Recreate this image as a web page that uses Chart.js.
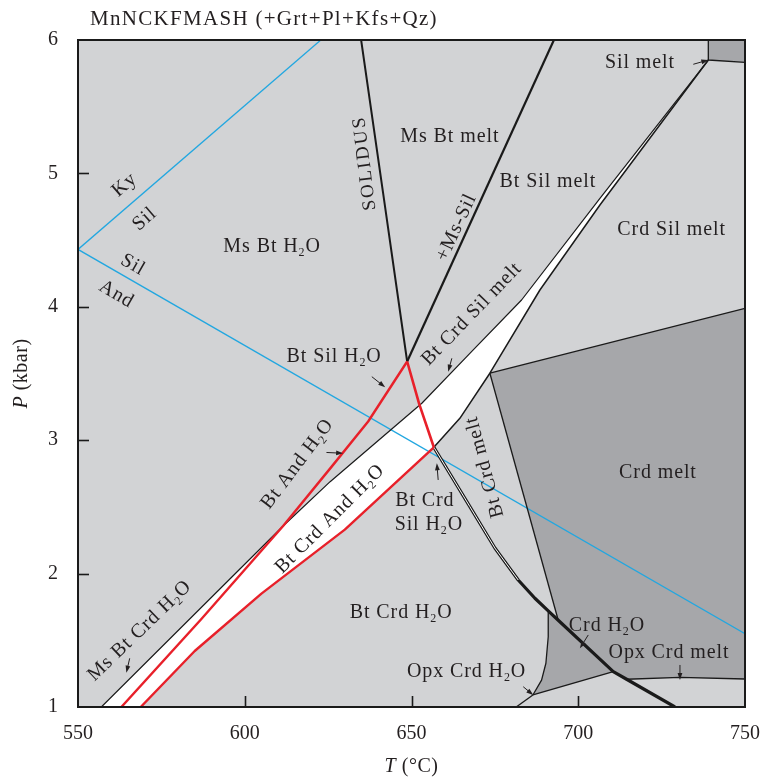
<!DOCTYPE html>
<html><head><meta charset="utf-8">
<script src="https://cdn.jsdelivr.net/npm/chart.js@4/dist/chart.umd.min.js"></script>
<style>html,body{margin:0;padding:0;background:#fff;}canvas{display:block;}</style>
</head><body>
<canvas id="c" width="765" height="777"></canvas>
<script>
// ---------- data (T in °C, P in kbar) ----------
const T_TICKS = [550, 600, 650, 700, 750];
const P_TICKS = [1, 2, 3, 4, 5, 6];
const kySil = [[550,4.43],[622.8,6]];
const silAnd = [[550,4.43],[750,1.55]];
const solidusUpper = [[634.9,6],[641.5,4.85],[648.7,3.59]];
const msSilOut = [[648.7,3.59],[692.7,6]];
const redBtAnd = [[563.0,1.0],[587,1.66],[611.5,2.357],[626,2.80],[637,3.14],[648.7,3.59]];
const redSolidus = [[648.7,3.59],[652.3,3.272],[656.7,2.947]];
const redBtCrdAnd = [[568.8,1.0],[585,1.42],[605,1.85],[630,2.33],[656.7,2.947]];
const crdIn = [[557.0,1.0],[611.5,2.357],[625.6,2.689],[653.1,3.277],[667.5,3.651],[683.0,4.051],[706.5,4.813],[739.0,5.85]];
const silOut = [[656.7,2.947],[664.5,3.164],[673.5,3.502],[688.5,4.126],[706.5,4.763],[739.0,5.85]];
const solidusLower = [[656.7,2.947],[667.5,2.502],[675.0,2.192],[682.0,1.952],[687.0,1.815],[691.0,1.72],[694.0,1.65],[710.5,1.265],[714.5,1.208],[729.0,1.0]];
const crdMeltTop = [[673.5,3.502],[750,3.989]];
const crdMeltLeft = [[673.5,3.502],[694.0,1.65]];
const crdH2OLeft = [[686.4,1.09],[689.0,1.202],[690.3,1.328],[691.0,1.527],[691.0,1.72]];
const crdH2OBase = [[686.4,1.09],[710.5,1.265]];
const opxCrdH2O = [[681.4,1.0],[686.4,1.09]];
const opxCrdMeltBase = [[714.5,1.208],[730.5,1.222],[750,1.21]];
const silMeltBox = [[739,6],[739,5.85],[750,5.833]];

const regionLabels = [
  ['Sil melt', 718.5, 5.828, 0],
  ['Ms Bt melt', 661.5, 5.273, 0],
  ['Bt Sil melt', 690.9, 4.936, 0],
  ['Crd Sil melt', 728.0, 4.576, 0],
  ['Ms Bt H_2O', 608.2, 4.450, 0],
  ['SOLIDUS', 636.0, 5.078, -97],
  ['+Ms-Sil', 663.5, 4.595, -65],
  ['Ky', 564.0, 4.913, -41],
  ['Sil', 570.0, 4.658, -41],
  ['Sil', 566.5, 4.313, 30],
  ['And', 561.5, 4.094, 30],
  ['Bt Sil H_2O', 626.8, 3.624, 0],
  ['Bt And H_2O', 615.8, 2.822, -53],
  ['Bt Crd Sil melt', 668.1, 3.946, -46],
  ['Bt Crd And H_2O', 625.6, 2.41, -45],
  ['Ms Bt Crd H_2O', 568.5, 1.571, -44],
  ['Bt Crd', 654.0, 2.544, 0],
  ['Sil H_2O', 655.2, 2.364, 0],
  ['Bt Crd melt', 672.0, 2.799, -105],
  ['Crd melt', 723.9, 2.754, 0],
  ['Bt Crd H_2O', 646.9, 1.705, 0],
  ['Crd H_2O', 708.6, 1.607, 0],
  ['Opx Crd melt', 727.2, 1.405, 0],
  ['Opx Crd H_2O', 666.5, 1.262, 0]
];
const arrows = [
  [[734.5,5.818],[739.0,5.85]],
  [[638.1,3.476],[642.1,3.397]],
  [[624.5,2.908],[629.5,2.902]],
  [[662.1,3.614],[661.0,3.514]],
  [[658.0,2.702],[657.6,2.827]],
  [[565.5,1.365],[564.5,1.257]],
  [[703.0,1.540],[700.5,1.440]],
  [[730.5,1.315],[730.5,1.202]],
  [[683.5,1.152],[686.5,1.09]]
];

// ---------- polygons built from the curves ----------
const whiteField = crdIn.concat(silOut.slice(0,-1).reverse(), redBtCrdAnd.slice(0,-1).reverse());
const darkCrdMelt = crdMeltTop.concat([[750, opxCrdMeltBase[2][1]]], opxCrdMeltBase.slice(0,-1).reverse(), solidusLower.slice(6,8).reverse());
const darkCrdH2O = solidusLower.slice(5,8).concat([crdH2OBase[0]], crdH2OLeft.slice(1,-1));
const darkSilMelt = [[739,6],[750,6]].concat(silMeltBox.slice(1).reverse());

// ---------- styles ----------
const LIGHT = '#d2d3d5', DARK = '#a6a7aa', WHITE = '#ffffff';
const BLACK = '#1a1a1a', RED = '#e8202a', BLUE = '#22a7e0', INK = '#231f20';
const FONT = '"Liberation Serif", "Times New Roman", serif';

const xy = a => a.map(([x,y]) => ({x, y}));
const lineDs = (d, c, w, o) => ({data: xy(d), borderColor: c, borderWidth: w, pointRadius: 0, fill: false, tension: 0, order: o, borderJoinStyle: 'round', borderCapStyle: 'butt'});
const polyDs = (d, c, o) => ({data: xy(d), borderColor: 'rgba(0,0,0,0)', borderWidth: 0, backgroundColor: c, pointRadius: 0, fill: 'shape', tension: 0, order: o});

function parseRich(text) {
  const segs = []; let buf = '';
  for (let i = 0; i < text.length; i++) {
    if (text[i] === '_') { if (buf) segs.push({t: buf}); buf = ''; segs.push({t: text[i+1], sub: true}); i++; }
    else buf += text[i];
  }
  if (buf) segs.push({t: buf});
  return segs;
}
function drawRich(ctx, segs, x, y, rot, size, align, spacing) {
  ctx.save();
  ctx.translate(x, y);
  ctx.rotate(rot * Math.PI / 180);
  ctx.textBaseline = 'middle';
  ctx.textAlign = 'left';
  ctx.fillStyle = INK;
  try { ctx.letterSpacing = (spacing || 0) + 'px'; } catch (e) {}
  const parts = segs.map(s => {
    const fs = s.sub ? Math.round(size * 0.62) : size;
    const f = (s.it ? 'italic ' : '') + fs + 'px ' + FONT;
    ctx.font = f;
    return {t: s.t, f, w: ctx.measureText(s.t).width, dy: s.sub ? size * 0.3 : 0};
  });
  const total = parts.reduce((a, p) => a + p.w, 0);
  let cx = align === 'left' ? 0 : -total / 2;
  for (const p of parts) { ctx.font = p.f; ctx.fillText(p.t, cx, p.dy); cx += p.w; }
  ctx.restore();
}

const decor = {
  id: 'decor',
  beforeDatasetsDraw(chart) {
    const {ctx, chartArea: a} = chart;
    ctx.save(); ctx.fillStyle = LIGHT; ctx.fillRect(a.left, a.top, a.right - a.left, a.bottom - a.top); ctx.restore();
  },
  afterDatasetsDraw(chart) {
    const {ctx, chartArea: a, scales: {x, y}} = chart;
    ctx.save();
    ctx.strokeStyle = BLACK; ctx.lineWidth = 2;
    ctx.strokeRect(a.left, a.top, a.right - a.left, a.bottom - a.top);
    ctx.lineWidth = 1.6;
    T_TICKS.slice(1, -1).forEach(t => { const px = Math.round(x.getPixelForValue(t)) + 0.5; ctx.beginPath(); ctx.moveTo(px, a.bottom); ctx.lineTo(px, a.bottom - 11); ctx.stroke(); });
    P_TICKS.slice(1, -1).forEach(p => { const py = Math.round(y.getPixelForValue(p)) + 0.5; ctx.beginPath(); ctx.moveTo(a.left, py); ctx.lineTo(a.left + 11, py); ctx.stroke(); });
    ctx.lineWidth = 1; ctx.fillStyle = INK; ctx.strokeStyle = INK;
    arrows.forEach(([f, t]) => {
      const x0 = x.getPixelForValue(f[0]), y0 = y.getPixelForValue(f[1]);
      const x1 = x.getPixelForValue(t[0]), y1 = y.getPixelForValue(t[1]);
      const ang = Math.atan2(y1 - y0, x1 - x0);
      ctx.beginPath(); ctx.moveTo(x0, y0); ctx.lineTo(x1 - 5 * Math.cos(ang), y1 - 5 * Math.sin(ang)); ctx.stroke();
      ctx.beginPath(); ctx.moveTo(x1, y1);
      ctx.lineTo(x1 - 7 * Math.cos(ang) + 2.4 * Math.sin(ang), y1 - 7 * Math.sin(ang) - 2.4 * Math.cos(ang));
      ctx.lineTo(x1 - 7 * Math.cos(ang) - 2.4 * Math.sin(ang), y1 - 7 * Math.sin(ang) + 2.4 * Math.cos(ang));
      ctx.closePath(); ctx.fill();
    });
    regionLabels.forEach(([txt, t, p, r]) => {
      const solid = txt === 'SOLIDUS';
      drawRich(ctx, parseRich(txt), x.getPixelForValue(t), y.getPixelForValue(p), r, solid ? 19 : 20, 'center', solid ? 2.2 : 0.9);
    });
    ctx.restore();
  },
  afterDraw(chart) {
    const {ctx, chartArea: a} = chart;
    drawRich(ctx, [{t: 'MnNCKFMASH (+Grt+Pl+Kfs+Qz)'}], 90, 19, 0, 21, 'left', 1.3);
    drawRich(ctx, [{t: 'T', it: true}, {t: ' (°C)'}], (a.left + a.right) / 2, 767, 0, 20, 'center', 0.5);
    drawRich(ctx, [{t: 'P', it: true}, {t: ' (kbar)'}], 22, (a.top + a.bottom) / 2, -90, 20, 'center', 0.5);
  }
};

new Chart(document.getElementById('c'), {
  type: 'line',
  data: {
    datasets: [
      polyDs(whiteField, WHITE, 30),
      polyDs(darkCrdMelt, DARK, 29),
      polyDs(darkCrdH2O, DARK, 29),
      polyDs(darkSilMelt, DARK, 29),
      lineDs(kySil, BLUE, 1.3, 20),
      lineDs(silAnd, BLUE, 1.3, 20),
      lineDs(crdIn, BLACK, 1.2, 10),
      lineDs(silOut, BLACK, 1.5, 10),
      lineDs(crdMeltTop, BLACK, 1.3, 10),
      lineDs(crdMeltLeft, BLACK, 1.3, 10),
      lineDs(crdH2OLeft, BLACK, 1.3, 10),
      lineDs(crdH2OBase, BLACK, 1.3, 10),
      lineDs(opxCrdH2O, BLACK, 1.3, 10),
      lineDs(opxCrdMeltBase, BLACK, 1.3, 10),
      lineDs(silMeltBox, BLACK, 1.3, 10),
      lineDs(solidusUpper, BLACK, 2, 9),
      lineDs(msSilOut, BLACK, 2.2, 9),
      lineDs(solidusLower.slice(0, 4), WHITE, 1, 8),
      lineDs(solidusLower, BLACK, 3.2, 9),
      lineDs(redBtAnd, RED, 2.4, 5),
      lineDs(redBtCrdAnd, RED, 2.4, 5),
      lineDs(redSolidus, RED, 2.6, 5)
    ]
  },
  options: {
    responsive: false,
    animation: false,
    events: [],
    layout: {padding: {top: 40, right: 20, left: 0, bottom: 0}},
    plugins: {legend: {display: false}, tooltip: {enabled: false}, title: {display: false}},
    scales: {
      x: {
        type: 'linear', min: 550, max: 750,
        afterFit: s => { s.height = 70; s.paddingLeft = 0; s.paddingRight = 0; },
        afterBuildTicks: s => { s.ticks = T_TICKS.map(v => ({value: v})); },
        grid: {display: false, drawTicks: false},
        border: {display: false},
        ticks: {padding: 15, color: INK, font: {family: FONT, size: 20}}
      },
      y: {
        type: 'linear', min: 1, max: 6,
        afterFit: s => { s.width = 78; s.paddingTop = 0; s.paddingBottom = 0; },
        afterBuildTicks: s => { s.ticks = P_TICKS.map(v => ({value: v})); },
        grid: {display: false, drawTicks: false},
        border: {display: false},
        ticks: {padding: 20, color: INK, font: {family: FONT, size: 20}}
      }
    }
  },
  plugins: [decor]
});
</script>
</body></html>
